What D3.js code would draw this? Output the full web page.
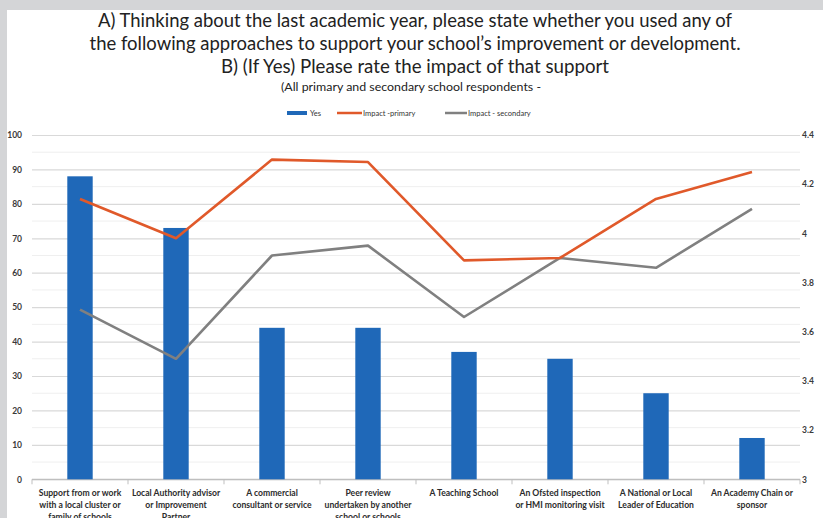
<!DOCTYPE html>
<html>
<head>
<meta charset="utf-8">
<script src="https://cdn.jsdelivr.net/npm/d3@7"></script>
<style>
  html, body { margin: 0; padding: 0; background: #ffffff; }
  svg { display: block; }
  text { font-family: Lato, "Open Sans", sans-serif; }
</style>
</head>
<body>
<svg id="chart" width="823" height="518"></svg>
<script>
// ---------- data ----------
const categories = [
  ["Support from or work", "with a local cluster or", "family of schools"],
  ["Local Authority advisor", "or Improvement", "Partner"],
  ["A commercial", "consultant or service"],
  ["Peer review", "undertaken by another", "school or schools"],
  ["A Teaching School"],
  ["An Ofsted inspection", "or HMI monitoring visit"],
  ["A National or Local", "Leader of Education"],
  ["An Academy Chain or", "sponsor"]
];
const yesValues = [88, 73, 44, 44, 37, 35, 25, 12];
const impactPrimary = [4.14, 3.98, 4.30, 4.29, 3.89, 3.90, 4.14, 4.25];
const impactSecondary = [3.69, 3.49, 3.91, 3.95, 3.66, 3.90, 3.86, 4.10];
const leftTicks = [0, 10, 20, 30, 40, 50, 60, 70, 80, 90, 100];
const rightTicks = [3, 3.2, 3.4, 3.6, 3.8, 4, 4.2, 4.4];
const rightTickLabels = ["3", "3.2", "3.4", "3.6", "3.8", "4", "4.2", "4.4"];
const titleLines = [
  "A) Thinking about the last academic year, please state whether you used any of",
  "the following approaches to support your school\u2019s improvement or development.",
  "B) (If Yes) Please rate the impact of that support"
];
const subtitle = "(All primary and secondary school respondents -";
const seriesNames = ["Yes", "Impact -primary", "Impact - secondary"];
const colors = { yes: "#1f68b8", primary: "#e0592a", secondary: "#808080" };

// ---------- layout ----------
const svg = d3.select("#chart");
const W = 823, H = 518;
const plotLeft = 32, plotRight = 800, plotTop = 135, plotBottom = 479.3;

const idx = d3.range(categories.length);
const x = d3.scaleBand().domain(idx).range([plotLeft, plotRight]).paddingInner(0).paddingOuter(0);
const yL = d3.scaleLinear().domain([0, 100]).range([plotBottom, plotTop]);
const yR = d3.scaleLinear().domain([3, 4.4]).range([plotBottom, plotTop]);

svg.append("rect").attr("width", W).attr("height", H).attr("fill", "#ffffff");

// minor gridlines (every 5)
const minor = d3.range(5, 100, 10);
svg.append("g").selectAll("line").data(minor).join("line")
  .attr("x1", plotLeft).attr("x2", plotRight)
  .attr("y1", d => yL(d)).attr("y2", d => yL(d))
  .attr("stroke", "#efefef").attr("stroke-width", 1);

// major gridlines + left axis via d3.axisLeft
const gLeft = svg.append("g").attr("transform", `translate(${plotLeft},0)`)
  .call(d3.axisLeft(yL).tickValues(leftTicks).tickSize(-(plotRight - plotLeft)).tickPadding(10));
gLeft.select(".domain").remove();
gLeft.selectAll(".tick line").attr("stroke", "#d9d9d9").attr("stroke-width", 1.2);
gLeft.selectAll(".tick text")
  .attr("font-family", "Lato, sans-serif").attr("font-size", 8.5).attr("font-weight", 700)
  .attr("fill", "#3a3a3a");

// right axis
const gRight = svg.append("g").attr("transform", `translate(${plotRight},0)`)
  .call(d3.axisRight(yR).tickValues(rightTicks).tickFormat((d, i) => rightTickLabels[i]).tickSize(0).tickPadding(2));
gRight.select(".domain").remove();
gRight.selectAll(".tick text")
  .attr("font-family", "Lato, sans-serif").attr("font-size", 8.5).attr("font-weight", 700)
  .attr("fill", "#3a3a3a");

// bottom axis line + category separators
svg.append("line").attr("x1", plotLeft).attr("x2", plotRight)
  .attr("y1", plotBottom).attr("y2", plotBottom).attr("stroke", "#bfbfbf").attr("stroke-width", 1.2);
const seps = idx.map(i => x(i)).concat([plotRight]);
svg.append("g").selectAll("line").data(seps).join("line")
  .attr("x1", d => d).attr("x2", d => d)
  .attr("y1", plotBottom).attr("y2", plotBottom + 5)
  .attr("stroke", "#bfbfbf").attr("stroke-width", 1);

// bars
const barW = 25.4;
svg.append("g").selectAll("rect").data(yesValues).join("rect")
  .attr("x", (d, i) => x(i) + x.bandwidth() / 2 - barW / 2)
  .attr("width", barW)
  .attr("y", d => yL(d))
  .attr("height", d => yL(0) - yL(d))
  .attr("fill", colors.yes);

// lines
const lineGen = d3.line().x((d, i) => x(i) + x.bandwidth() / 2).y(d => yR(d));
svg.append("path").datum(impactSecondary).attr("d", lineGen)
  .attr("fill", "none").attr("stroke", colors.secondary).attr("stroke-width", 2.6)
  .attr("stroke-linejoin", "round");
svg.append("path").datum(impactPrimary).attr("d", lineGen)
  .attr("fill", "none").attr("stroke", colors.primary).attr("stroke-width", 2.6)
  .attr("stroke-linejoin", "round");

// category labels
const catG = svg.append("g");
categories.forEach((lines, i) => {
  const t = catG.append("text")
    .attr("x", x(i) + x.bandwidth() / 2)
    .attr("text-anchor", "middle")
    .attr("font-family", "Lato, sans-serif")
    .attr("font-size", 8.6).attr("font-weight", 700)
    .attr("fill", "#2b2b2b");
  lines.forEach((ln, j) => {
    t.append("tspan").attr("x", x(i) + x.bandwidth() / 2).attr("y", 495.5 + j * 12.2).text(ln);
  });
});

// title
const titleW = [634, 651, 388];
const titleY = [27, 50, 73];
titleLines.forEach((ln, i) => {
  svg.append("text").attr("x", 415).attr("y", titleY[i])
    .attr("text-anchor", "middle")
    .attr("font-family", "Lato, sans-serif").attr("font-size", 19.5)
    .attr("fill", "#222222")
    .attr("textLength", titleW[i]).attr("lengthAdjust", "spacingAndGlyphs")
    .text(ln);
});
svg.append("text").attr("x", 411).attr("y", 91)
  .attr("text-anchor", "middle")
  .attr("font-family", "Lato, sans-serif").attr("font-size", 10.5)
  .attr("fill", "#222222")
  .attr("textLength", 260).attr("lengthAdjust", "spacingAndGlyphs")
  .text(subtitle);

// legend
const leg = svg.append("g");
leg.append("rect").attr("x", 287).attr("y", 111).attr("width", 20).attr("height", 4).attr("fill", colors.yes);
leg.append("text").attr("x", 310).attr("y", 116).attr("font-size", 7.5).attr("fill", "#333").text(seriesNames[0]);
leg.append("line").attr("x1", 337).attr("x2", 362).attr("y1", 113).attr("y2", 113)
  .attr("stroke", colors.primary).attr("stroke-width", 2.5);
leg.append("text").attr("x", 363).attr("y", 116).attr("font-size", 7.5).attr("fill", "#333").text(seriesNames[1]);
leg.append("line").attr("x1", 445).attr("x2", 467).attr("y1", 113).attr("y2", 113)
  .attr("stroke", colors.secondary).attr("stroke-width", 2.5);
leg.append("text").attr("x", 468).attr("y", 116).attr("font-size", 7.5).attr("fill", "#333").text(seriesNames[2]);

// grey frame (photo border)
svg.append("rect").attr("x", 0).attr("y", 0).attr("width", W).attr("height", 10).attr("fill", "#d4d5d7");
svg.append("rect").attr("x", 0).attr("y", 0).attr("width", 7).attr("height", H).attr("fill", "#d4d5d7");
</script>
</body>
</html>
